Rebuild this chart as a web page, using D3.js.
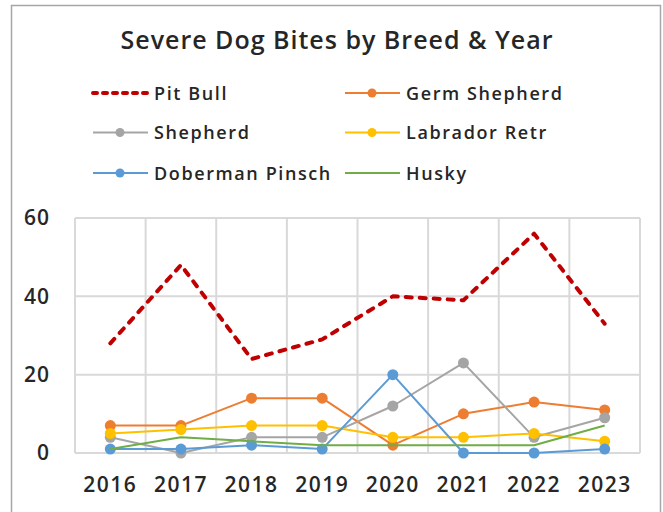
<!DOCTYPE html>
<html>
<head>
  <meta charset="utf-8">
  <title>Severe Dog Bites by Breed & Year</title>
  <script src="https://d3js.org/d3.v7.min.js"></script>
  <style>
    body { margin: 0; background: #fff; }
    text { font-family: "Open Sans", "Liberation Sans", Arial, sans-serif; fill: #262626; }
  </style>
</head>
<body>
<script>
const width = 663;
const height = 512;

// data
const years = ['2016', '2017', '2018', '2019', '2020', '2021', '2022', '2023'];
const pitBull = [28, 48, 24, 29, 40, 39, 56, 33];
const germShepherd = [7, 7, 14, 14, 2, 10, 13, 11];
const shepherd = [4, 0, 4, 4, 12, 23, 4, 9];
const labrador = [5, 6, 7, 7, 4, 4, 5, 3];
const doberman = [1, 1, 2, 1, 20, 0, 0, 1];
const husky = [1, 4, 3, 2, 2, 2, 2, 7];
const yTicks = [0, 20, 40, 60];

const series = [
  { name: 'Pit Bull', values: pitBull, color: '#c00000', dash: true, marker: false },
  { name: 'Germ Shepherd', values: germShepherd, color: '#ed7d31', marker: true },
  { name: 'Shepherd', values: shepherd, color: '#a5a5a5', marker: true },
  { name: 'Labrador Retr', values: labrador, color: '#ffc000', marker: true },
  { name: 'Doberman Pinsch', values: doberman, color: '#5b9bd5', marker: true },
  { name: 'Husky', values: husky, color: '#70ad47', marker: false }
];

const svg = d3.select('body')
  .append('svg')
  .attr('width', width)
  .attr('height', height);

// chart border
svg.append('rect')
  .attr('x', 11.5).attr('y', 5.5)
  .attr('width', 649).attr('height', 530)
  .attr('fill', 'none')
  .attr('stroke', '#a6a6a6')
  .attr('stroke-width', 1.5);

svg.append('text')
  .attr('x', 337).attr('y', 49)
  .attr('text-anchor', 'middle')
  .style('font-size', '25px')
  .style('font-weight', 600)
  .style('letter-spacing', '1px')
  .text('Severe Dog Bites by Breed & Year');

const plot = { left: 75, right: 640, top: 218, bottom: 453 };

const x = d3.scaleBand()
  .domain(years)
  .range([plot.left, plot.right])
  .padding(0);

const y = d3.scaleLinear()
  .domain([0, 60])
  .range([plot.bottom, plot.top]);

// grid
const grid = svg.append('g').attr('stroke', '#d9d9d9').attr('stroke-width', 2);
grid.selectAll('.h')
  .data(yTicks)
  .enter().append('line')
  .attr('x1', plot.left).attr('x2', plot.right)
  .attr('y1', d => y(d)).attr('y2', d => y(d));
grid.selectAll('.v')
  .data(years.concat(['end']))
  .enter().append('line')
  .attr('x1', (d, i) => plot.left + i * x.bandwidth())
  .attr('x2', (d, i) => plot.left + i * x.bandwidth())
  .attr('y1', plot.top).attr('y2', plot.bottom);

// axes (labels only, Excel style)
const yAxis = svg.append('g')
  .attr('transform', 'translate(50,0)')
  .call(d3.axisLeft(y).tickValues(yTicks).tickSize(0).tickPadding(0));
yAxis.select('.domain').remove();
yAxis.selectAll('text')
  .style('font-size', '21px')
  .style('font-weight', 600)
  .style('letter-spacing', '1px')
  .style('font-family', '"Open Sans", "Liberation Sans", Arial, sans-serif')
  .attr('fill', '#262626');

const xAxis = svg.append('g')
  .attr('transform', `translate(0,${plot.bottom})`)
  .call(d3.axisBottom(x).tickSize(0).tickPadding(24));
xAxis.select('.domain').remove();
xAxis.selectAll('text')
  .style('font-size', '21px')
  .style('font-weight', 600)
  .style('font-family', '"Open Sans", "Liberation Sans", Arial, sans-serif')
  .style('letter-spacing', '1.5px')
  .attr('fill', '#262626');

const line = d3.line()
  .x((d, i) => x(years[i]) + x.bandwidth() / 2)
  .y(d => y(d));

const lines = svg.append('g');
series.forEach(s => {
  lines.append('path')
    .datum(s.values)
    .attr('fill', 'none')
    .attr('stroke', s.color)
    .attr('stroke-width', s.dash ? 4 : 2)
    .attr('stroke-linecap', s.dash ? 'round' : 'butt')
    .attr('stroke-linejoin', 'round')
    .attr('stroke-dasharray', s.dash ? '6,8' : null)
    .attr('d', line);
  if (s.marker) {
    lines.selectAll(null)
      .data(s.values)
      .enter().append('circle')
      .attr('cx', (d, i) => x(years[i]) + x.bandwidth() / 2)
      .attr('cy', d => y(d))
      .attr('r', 5.5)
      .attr('fill', s.color);
  }
});

// legend
const legendCols = [93, 345];
const legendRows = [93, 132.5, 173];
const legend = svg.append('g');
series.forEach((s, i) => {
  const lx = legendCols[i % 2];
  const ly = legendRows[Math.floor(i / 2)];
  const g = legend.append('g').attr('transform', `translate(${lx},${ly})`);
  g.append('line')
    .attr('x1', 0).attr('x2', 55)
    .attr('stroke', s.color)
    .attr('stroke-width', s.dash ? 4 : 2)
    .attr('stroke-linecap', s.dash ? 'round' : 'butt')
    .attr('stroke-dasharray', s.dash ? '4,6' : null);
  if (s.marker) {
    g.append('circle').attr('cx', 27).attr('r', 4.5).attr('fill', s.color);
  }
  g.append('text')
    .attr('x', 61).attr('y', 6.5)
    .style('font-size', '18px')
    .style('font-weight', 600)
    .style('letter-spacing', '1.6px')
    .text(s.name);
});
</script>
</body>
</html>
